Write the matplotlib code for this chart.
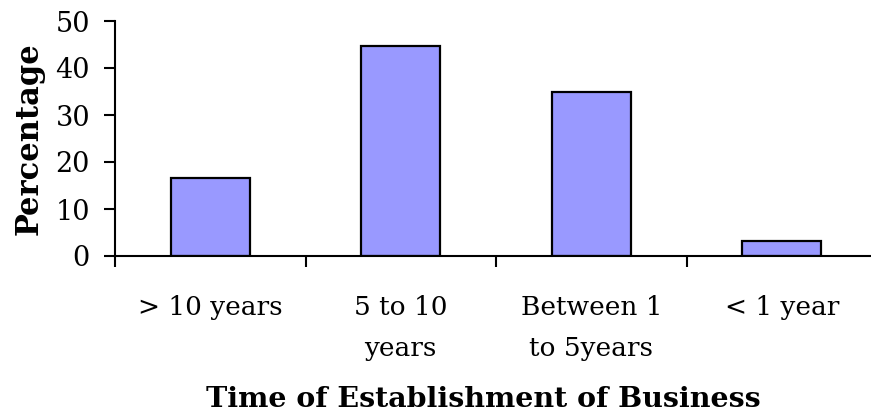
import matplotlib
matplotlib.use("Agg")
import matplotlib.pyplot as plt
import numpy as np

categories = ["> 10 years", "5 to 10\nyears", "Between 1\nto 5years", "< 1 year"]
values = [16.6, 44.7, 34.8, 3.1]
yticks = [0, 10, 20, 30, 40, 50]

plt.rcParams['font.family'] = ['DejaVu Serif']

fig = plt.figure(figsize=(8.71, 4.2), dpi=100)
ax = fig.add_axes([115/871, 164/420, 762/871, 235/420])

x = np.arange(len(categories))
ax.bar(x, values, width=0.415, color="#9999FF", edgecolor="black", linewidth=1.6)

ax.set_xlim(-0.5, len(categories) - 0.5)
ax.set_ylim(0, 50)
ax.set_yticks(yticks)
ax.set_yticklabels([str(v) for v in yticks])

ax.set_xticks(np.arange(len(categories) + 1) - 0.5)
ax.set_xticklabels([])
ax.set_xticks(x, minor=True)
ax.set_xticklabels(categories, minor=True, fontsize=19, linespacing=1.8)
ax.tick_params(axis='x', which='minor', length=0, pad=28)
ax.tick_params(axis='x', which='major', direction='out', length=8, width=1.5)
ax.tick_params(axis='y', direction='out', length=8, width=1.5, labelsize=19.5, pad=10)

for s in ['top', 'right']:
    ax.spines[s].set_visible(False)
for s in ['left', 'bottom']:
    ax.spines[s].set_linewidth(1.5)

ax.set_ylabel("Percentage", fontsize=22, fontweight='bold')
ax.yaxis.set_label_coords((29 - 115) / 762, 0.5)
ax.yaxis.label.set_va('center')
ax.set_xlabel("Time of Establishment of Business", fontsize=20.5, fontweight='bold')
ax.xaxis.set_label_coords((483 - 115) / 762, -(386 - 256) / 235)

fig.savefig("out.png", dpi=100)
